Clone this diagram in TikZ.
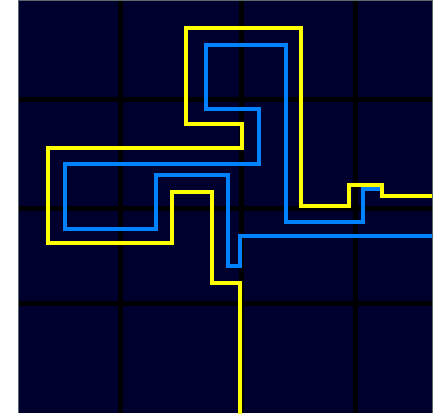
\documentclass[tikz,border=0pt]{standalone}
\definecolor{bgnavy}{RGB}{0,0,46}
\definecolor{pathyellow}{RGB}{255,255,0}
\definecolor{pathblue}{RGB}{0,130,255}
\definecolor{edgegray}{RGB}{90,105,105}
\begin{document}
\begin{tikzpicture}[x=1pt,y=-1pt,
  gridline/.style={black,line width=5pt},
  yellowroute/.style={pathyellow,line width=4pt,miter limit=10},
  blueroute/.style={pathblue,line width=4pt,miter limit=10}]
\useasboundingbox (0,0) rectangle (445,413);
\fill[white] (0,0) rectangle (445,413);
\fill[bgnavy] (18,0) rectangle (433,413);
\begin{scope}
\clip (18,0) rectangle (433,413);
% grid
\foreach \gx in {120.5,241.5,355.5} \draw[gridline] (\gx,0) -- (\gx,413);
\foreach \gy in {99.5,208,303} \draw[gridline] (18,\gy) -- (433,\gy);
% blue route
\draw[blueroute] (440,236) -- (240,236) -- (240,266) -- (228,266) -- (228,175)
  -- (156,175) -- (156,228.5) -- (65,228.5) -- (65,164) -- (258.5,164)
  -- (258.5,108.5) -- (205.5,108.5) -- (205.5,45) -- (285.5,45) -- (285.5,222)
  -- (363,222) -- (363,189) -- (380,189);
% yellow route
\draw[yellowroute] (240,420) -- (240,283) -- (212,283) -- (212,192) -- (171.5,192)
  -- (171.5,243) -- (47.5,243) -- (47.5,148) -- (242,148) -- (242,124)
  -- (185.5,124) -- (185.5,28) -- (301,28) -- (301,206) -- (349,206)
  -- (349,185) -- (382,185) -- (382,196) -- (440,196);
\end{scope}
\draw[edgegray,line width=0.8pt] (18.4,413) -- (18.4,0.4) -- (432.6,0.4) -- (432.6,413);
\end{tikzpicture}
\end{document}
